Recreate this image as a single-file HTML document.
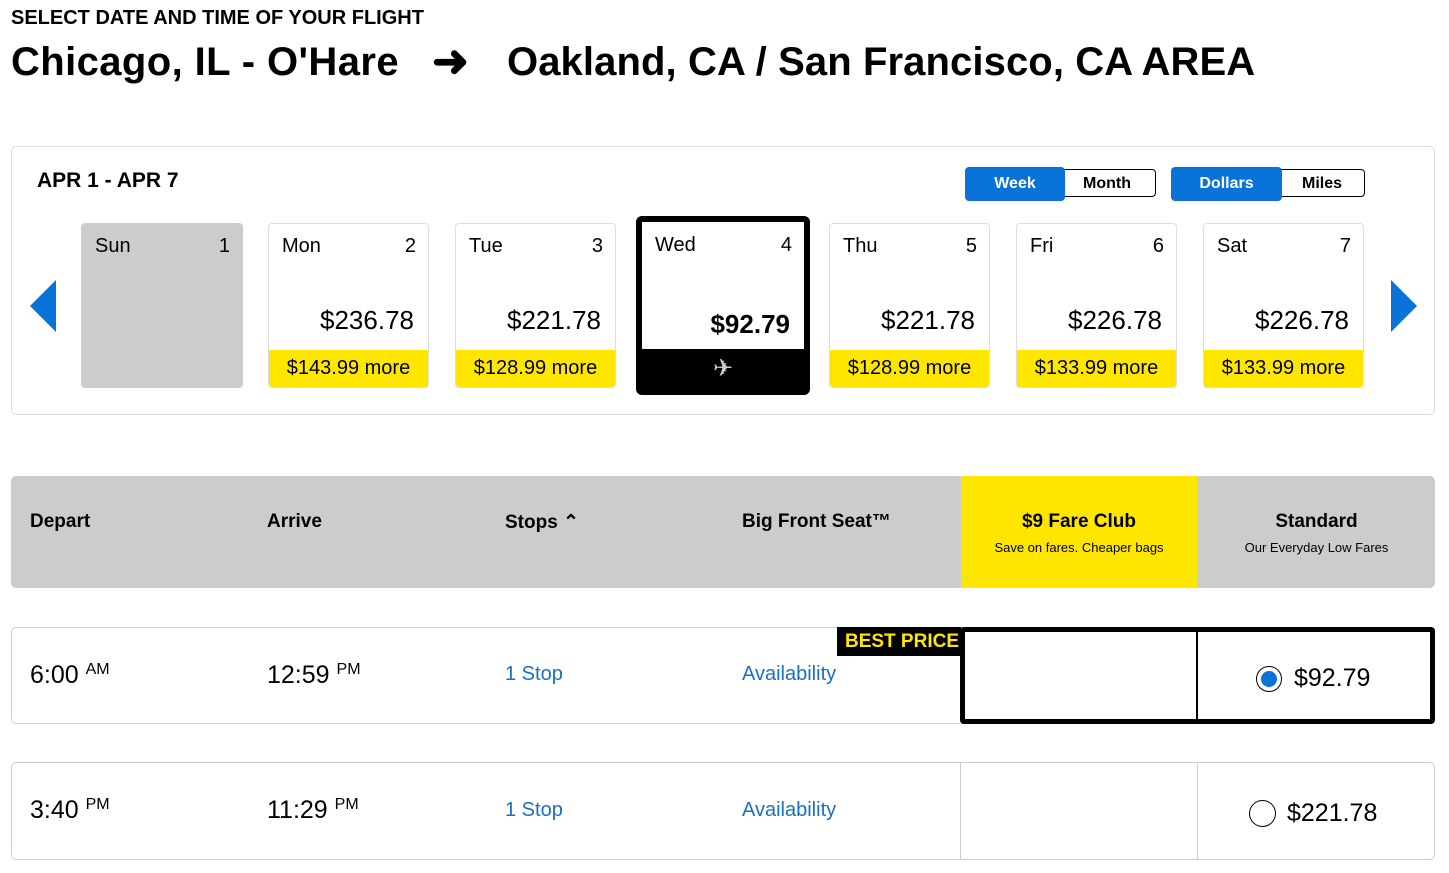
<!DOCTYPE html>
<html><head><meta charset="utf-8"><style>
body{margin:0;width:1449px;height:873px;background:#fff;font-family:"Liberation Sans",sans-serif;color:#000;position:relative;overflow:hidden}
.a{position:absolute;white-space:nowrap}
.card{position:absolute;top:223px;width:161px;height:165px;border:1px solid #ddd;border-radius:4px;background:#fff;box-sizing:border-box;overflow:hidden}
.card .d{position:absolute;left:13px;top:11px;font-size:20px}
.card .n{position:absolute;right:12px;top:11px;font-size:20px}
.card .p{position:absolute;right:14px;top:81px;font-size:26px}
.card .m{position:absolute;left:0;right:0;bottom:0;height:37px;background:#ffe600;font-size:20px;text-align:center;line-height:37px}
.hb{font-weight:bold;font-size:19px}
.blue{color:#1a6fc4;font-size:20px}
.tm{font-size:25px}
.tm sup{font-size:16px;vertical-align:9px}
</style></head><body>
<div class="a" style="left:11px;top:7px;font-weight:bold;font-size:20px">SELECT DATE AND TIME OF YOUR FLIGHT</div>
<div class="a" style="left:11px;top:40px;font-weight:bold;font-size:40px;letter-spacing:0.4px">Chicago, IL - O'Hare</div>
<div class="a" style="left:432px;top:36px;font-weight:bold;font-size:44px">&#10140;</div>
<div class="a" style="left:507px;top:40px;font-weight:bold;font-size:40px;letter-spacing:0.1px">Oakland, CA / San Francisco, CA AREA</div>

<div class="a" style="left:11px;top:146px;width:1424px;height:269px;border:1px solid #ddd;border-radius:5px;box-sizing:border-box"></div>
<div class="a" style="left:37px;top:169px;font-weight:bold;font-size:21px">APR 1 - APR 7</div>

<div class="a" style="left:965px;top:169px;width:191px;height:28px;border:1px solid #000;border-radius:4px;box-sizing:border-box"></div>
<div class="a" style="left:965px;top:167px;width:100px;height:34px;background:#0a73d9;border-radius:4px;color:#fff;font-weight:bold;font-size:16px;text-align:center;line-height:34px">Week</div>
<div class="a" style="left:1083px;top:175px;font-weight:bold;font-size:16px">Month</div>
<div class="a" style="left:1171px;top:169px;width:194px;height:28px;border:1px solid #000;border-radius:4px;box-sizing:border-box"></div>
<div class="a" style="left:1171px;top:167px;width:111px;height:34px;background:#0a73d9;border-radius:4px;color:#fff;font-weight:bold;font-size:16px;text-align:center;line-height:34px">Dollars</div>
<div class="a" style="left:1302px;top:175px;font-weight:bold;font-size:16px">Miles</div>

<svg class="a" style="left:30px;top:280px" width="30" height="52"><polygon points="26,0 26,52 0,26" fill="#0a73d9"/></svg>
<svg class="a" style="left:1391px;top:280px" width="30" height="52"><polygon points="0,0 0,52 26,26" fill="#0a73d9"/></svg>

<div class="card" style="left:81px;width:162px;background:#ccc;border-color:#ccc"><span class="d">Sun</span><span class="n">1</span></div>
<div class="card" style="left:268px"><span class="d">Mon</span><span class="n">2</span><span class="p">$236.78</span><div class="m">$143.99 more</div></div>
<div class="card" style="left:455px"><span class="d">Tue</span><span class="n">3</span><span class="p">$221.78</span><div class="m">$128.99 more</div></div>
<div class="card" style="left:636px;top:216px;width:174px;height:179px;border:6px solid #000;border-radius:6px"><span class="d" style="top:12px">Wed</span><span class="n" style="top:12px">4</span><span class="p" style="font-weight:bold;top:87px">$92.79</span><div class="m" style="background:#000;color:#ccc;height:40px;line-height:40px;font-size:24px">&#9992;</div></div>
<div class="card" style="left:829px"><span class="d">Thu</span><span class="n">5</span><span class="p">$221.78</span><div class="m">$128.99 more</div></div>
<div class="card" style="left:1016px"><span class="d">Fri</span><span class="n">6</span><span class="p">$226.78</span><div class="m">$133.99 more</div></div>
<div class="card" style="left:1203px"><span class="d">Sat</span><span class="n">7</span><span class="p">$226.78</span><div class="m">$133.99 more</div></div>

<div class="a" style="left:11px;top:476px;width:1424px;height:112px;background:#ccc;border-radius:5px"></div>
<div class="a" style="left:961px;top:476px;width:236px;height:112px;background:#ffe600"></div>
<div class="a hb" style="left:30px;top:511px">Depart</div>
<div class="a hb" style="left:267px;top:511px">Arrive</div>
<div class="a hb" style="left:505px;top:511px">Stops &#8963;</div>
<div class="a hb" style="left:742px;top:511px">Big Front Seat&#8482;</div>
<div class="a hb" style="left:961px;width:236px;top:511px;text-align:center">$9 Fare Club</div>
<div class="a" style="left:961px;width:236px;top:540px;text-align:center;font-size:13px">Save on fares. Cheaper bags</div>
<div class="a hb" style="left:1198px;width:237px;top:511px;text-align:center">Standard</div>
<div class="a" style="left:1198px;width:237px;top:540px;text-align:center;font-size:13px">Our Everyday Low Fares</div>

<div class="a" style="left:11px;top:627px;width:1424px;height:97px;border:1px solid #ccc;border-radius:5px;box-sizing:border-box"></div>
<div class="a" style="left:960px;top:627px;width:475px;height:97px;border:5px solid #000;border-radius:4px;box-sizing:border-box"></div>
<div class="a" style="left:1196px;top:627px;width:2px;height:97px;background:#000"></div>
<div class="a" style="left:837px;top:627px;width:124px;height:29px;background:#000;color:#ffe600;font-weight:bold;font-size:19px;text-align:right;line-height:29px;padding-right:2px;box-sizing:border-box">BEST PRICE</div>
<div class="a tm" style="left:30px;top:661px">6:00 <sup>AM</sup></div>
<div class="a tm" style="left:267px;top:661px">12:59 <sup>PM</sup></div>
<div class="a blue" style="left:505px;top:663px">1 Stop</div>
<div class="a blue" style="left:742px;top:663px">Availability</div>
<div class="a" style="left:1256px;top:666px;width:26px;height:26px;border:1.5px solid #000;border-radius:50%;box-sizing:border-box"></div>
<div class="a" style="left:1261px;top:671px;width:16px;height:16px;background:#0a73d9;border-radius:50%"></div>
<div class="a tm" style="left:1294px;top:664px">$92.79</div>

<div class="a" style="left:11px;top:762px;width:1424px;height:98px;border:1px solid #ccc;border-radius:5px;box-sizing:border-box"></div>
<div class="a" style="left:960px;top:762px;width:1px;height:98px;background:#ccc"></div>
<div class="a" style="left:1197px;top:762px;width:1px;height:98px;background:#ccc"></div>
<div class="a tm" style="left:30px;top:796px">3:40 <sup>PM</sup></div>
<div class="a tm" style="left:267px;top:796px">11:29 <sup>PM</sup></div>
<div class="a blue" style="left:505px;top:799px">1 Stop</div>
<div class="a blue" style="left:742px;top:799px">Availability</div>
<div class="a" style="left:1249px;top:800px;width:27px;height:27px;border:1.5px solid #000;border-radius:50%;box-sizing:border-box"></div>
<div class="a tm" style="left:1287px;top:799px">$221.78</div>
</body></html>
